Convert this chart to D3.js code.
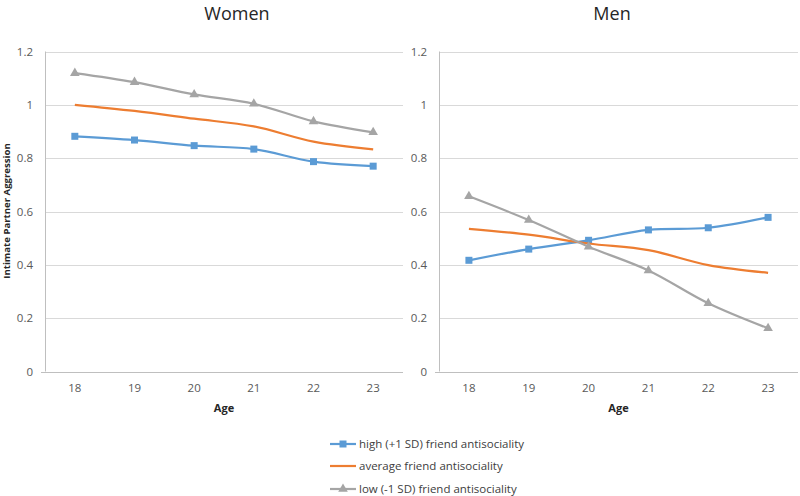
<!DOCTYPE html>
<html><head><meta charset="utf-8">
<script src="https://cdn.jsdelivr.net/npm/d3@7"></script>
<style>body{margin:0;background:#fff}svg{display:block}text{font-family:"Open Sans","Liberation Sans",sans-serif}</style>
</head><body><svg id="c" width="800" height="496"></svg>
<script>
const ages = [18, 19, 20, 21, 22, 23];
const yTicks = [0, 0.2, 0.4, 0.6, 0.8, 1, 1.2];
const seriesNames = ["high (+1 SD) friend antisociality", "average friend antisociality", "low (-1 SD) friend antisociality"];
const panelTitles = ["Women", "Men"];
const womenHigh = [0.882, 0.868, 0.847, 0.834, 0.787, 0.770];
const womenAvg  = [1.000, 0.977, 0.948, 0.919, 0.862, 0.833];
const womenLow  = [1.119, 1.085, 1.039, 1.004, 0.938, 0.897];
const menHigh = [0.417, 0.459, 0.492, 0.531, 0.539, 0.578];
const menAvg  = [0.535, 0.513, 0.480, 0.455, 0.399, 0.370];
const menLow  = [0.657, 0.568, 0.468, 0.379, 0.256, 0.162];

const colors = ["#5B9BD5", "#ED7D31", "#A5A5A5"];
const markers = ["square", "none", "triangle"];
const panels = [
  {title: panelTitles[0], data: [womenHigh, womenAvg, womenLow], x0: 45, x1: 403, labelX: 33, titleX: 237},
  {title: panelTitles[1], data: [menHigh, menAvg, menLow], x0: 439, x1: 798, labelX: 427, titleX: 612}
];
const svg = d3.select("#c");
const y = d3.scaleLinear().domain([0, 1.2]).range([371.5, 51.5]);

panels.forEach(p => {
  const g = svg.append("g");
  const x = d3.scaleBand().domain(ages).range([p.x0, p.x1]);
  const cx = a => x(a) + x.bandwidth() / 2;
  g.selectAll(".grid").data(yTicks.slice(1)).join("line")
    .attr("x1", p.x0).attr("x2", p.x1).attr("y1", d => Math.round(y(d)) + 0.5).attr("y2", d => Math.round(y(d)) + 0.5)
    .attr("stroke", "#d9d9d9").attr("stroke-width", 1);
  g.append("line").attr("x1", p.x0 + 0.5).attr("x2", p.x0 + 0.5).attr("y1", y(1.2)).attr("y2", y(0))
    .attr("stroke", "#bfbfbf");
  g.append("line").attr("x1", p.x0 - 4).attr("x2", p.x1).attr("y1", Math.round(y(0)) + 0.5).attr("y2", Math.round(y(0)) + 0.5)
    .attr("stroke", "#bfbfbf");
  g.selectAll(".yl").data(yTicks).join("text")
    .attr("x", p.labelX).attr("y", d => y(d)).attr("dy", "0.35em").attr("text-anchor", "end")
    .attr("font-size", 11.5).attr("fill", "#595959").text(d => d3.format("~g")(d));
  g.selectAll(".xl").data(ages).join("text")
    .attr("x", d => cx(d)).attr("y", 388).attr("dy", "0.35em").attr("text-anchor", "middle")
    .attr("font-size", 11.5).attr("fill", "#595959").text(d => d);
  g.append("text").attr("x", (p.x0 + p.x1) / 2).attr("y", 408).attr("dy", "0.35em").attr("text-anchor", "middle")
    .attr("font-size", 11).attr("font-weight", "bold").attr("fill", "#262626").text("Age");
  g.append("text").attr("x", p.titleX).attr("y", 14).attr("dy", "0.35em").attr("text-anchor", "middle")
    .attr("font-size", 18).attr("fill", "#262626").text(p.title);
  const line = d3.line().x((d, i) => cx(ages[i])).y(d => y(d)).curve(d3.curveCatmullRom.alpha(0.5));
  p.data.forEach((vals, si) => {
    g.append("path").attr("d", line(vals)).attr("fill", "none").attr("stroke", colors[si]).attr("stroke-width", 2.2);
    if (markers[si] === "square") {
      g.selectAll(null).data(vals).join("rect")
        .attr("x", (d, i) => cx(ages[i]) - 3.5).attr("y", d => y(d) - 3.5).attr("width", 7).attr("height", 7)
        .attr("fill", colors[si]);
    } else if (markers[si] === "triangle") {
      g.selectAll(null).data(vals).join("path")
        .attr("d", d3.symbol().type(d3.symbolTriangle).size(40))
        .attr("transform", (d, i) => `translate(${cx(ages[i])},${y(d)})`).attr("fill", colors[si]);
    }
  });
});

svg.append("text").attr("transform", `translate(7,211) rotate(-90)`).attr("dy", "0.35em")
  .attr("text-anchor", "middle").attr("font-size", 9.6).attr("font-weight", "bold").attr("fill", "#262626")
  .text("Intimate Partner Aggression");

const legY = [444, 466, 489];
const leg = svg.append("g");
seriesNames.forEach((n, i) => {
  leg.append("line").attr("x1", 330).attr("x2", 356).attr("y1", legY[i]).attr("y2", legY[i])
    .attr("stroke", colors[i]).attr("stroke-width", 2.2);
  if (markers[i] === "square") leg.append("rect").attr("x", 339.5).attr("y", legY[i] - 3.5).attr("width", 7).attr("height", 7).attr("fill", colors[i]);
  if (markers[i] === "triangle") leg.append("path").attr("d", d3.symbol().type(d3.symbolTriangle).size(40)).attr("transform", `translate(343,${legY[i]})`).attr("fill", colors[i]);
  leg.append("text").attr("x", 359).attr("y", legY[i]).attr("dy", "0.35em").attr("font-size", 11.5).attr("fill", "#404040").text(n);
});
</script></body></html>
